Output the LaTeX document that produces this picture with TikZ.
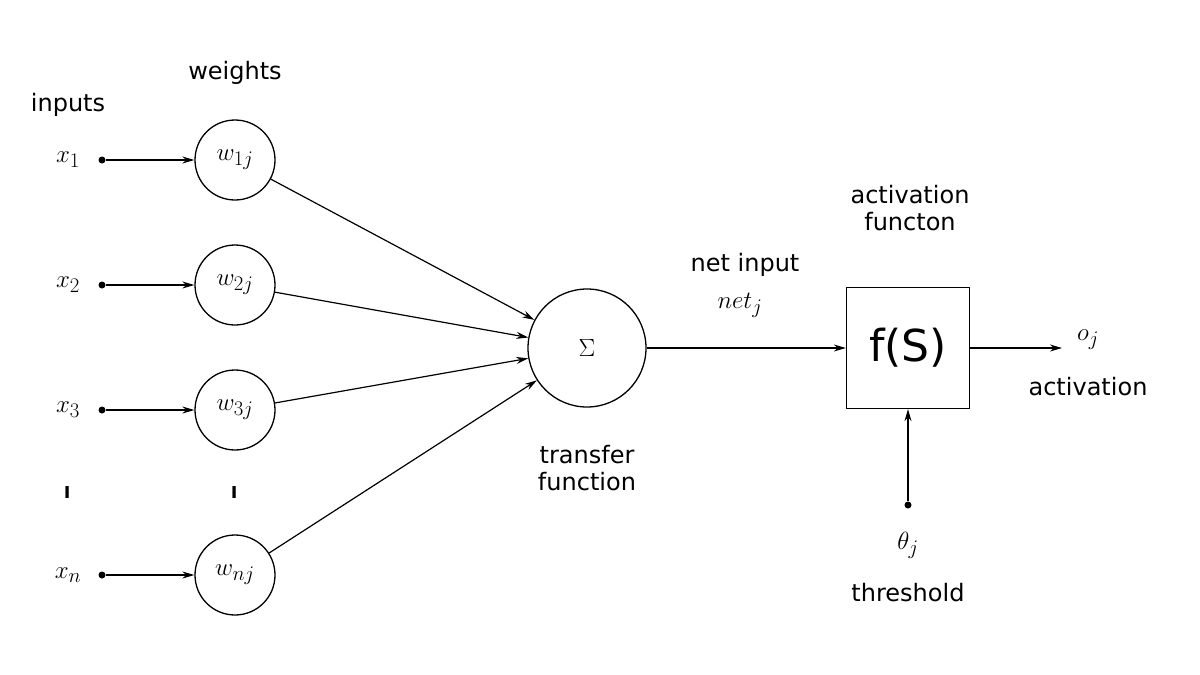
\documentclass[tikz,border=0pt]{standalone}
\usepackage{fontspec}
\setmainfont{DejaVu Sans}
\usetikzlibrary{arrows.meta}
\begin{document}
\begin{tikzpicture}[x=1pt,y=-1pt,
  lbl/.style={font=\fontsize{24}{27}\selectfont, align=center},
  mth/.style={font=\fontsize{32}{34}\selectfont},
  wc/.style={circle,draw,line width=1.3pt,minimum size=80pt,inner sep=0pt,font=\fontsize{30}{32}\selectfont},
  dot/.style={circle,fill,inner sep=0pt,minimum size=7pt},
  arr/.style={line width=1.2pt,-{Stealth[length=12pt,width=7pt]}}]
\useasboundingbox (0,0) rectangle (1200,675);
\node[lbl] (inp) at (68,105) {inputs};
\node[lbl] (wts) at (235,73) {weights};
\foreach \i/\y/\s in {1/160/1,2/285/2,3/410/3,n/575/n}{
  \node[mth] (x\i) at (68,\y) {$x_{\s}$};
  \node[dot] (d\i) at (102,\y) {};
  \node[wc] (w\i) at (235,\y) {$w_{\s j}$};
  \draw[arr] (d\i) -- (w\i);
}
\node[mth] (vd1) at (68,490) {$\vdots$};
\node[mth] (vd2) at (235,490) {$\vdots$};
\node[circle,draw,line width=1.3pt,minimum size=118pt,font=\fontsize{48}{50}\selectfont] (s) at (587,348) {$\Sigma$};
\foreach \i in {1,2,3,n}{\draw[arr] (w\i) -- (s);}
\node[lbl] (tf) at (587,468) {transfer\\function};
\node[draw,line width=1.3pt,minimum width=123pt,minimum height=121pt,font=\fontsize{44}{46}\selectfont] (f) at (908,348) {f(S)};
\node[lbl] (af) at (910,208) {activation\\functon};
\node[lbl] (ni) at (745,265) {net input};
\node[mth] (net) at (740,305) {$net_j$};
\draw[arr] (s) -- (f);
\coordinate (oe) at (1062,348);
\draw[arr] (f) -- (oe);
\node[mth] (o) at (1088,340) {$o_j$};
\node[lbl] (act) at (1088,387) {activation};
\node[dot] (td) at (908,505) {};
\draw[arr] (td) -- (f);
\node[mth] (th) at (908,545) {$\theta_j$};
\node[lbl] (thr) at (908,593) {threshold};
\end{tikzpicture}
\end{document}
